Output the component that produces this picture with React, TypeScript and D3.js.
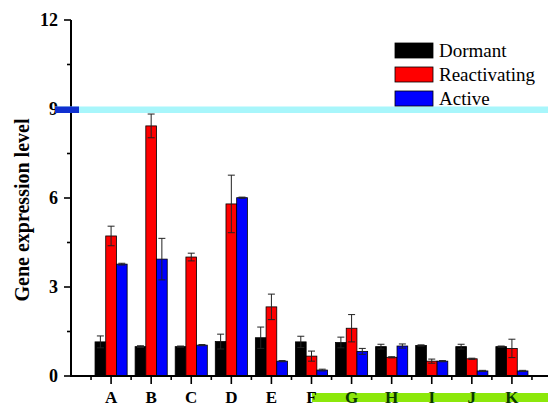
import React from "react";
import * as d3 from "d3";

// categories and series
const categories = ["A", "B", "C", "D", "E", "F", "G", "H", "I", "J", "K"];
const seriesNames = ["Dormant", "Reactivating", "Active"];
const seriesColors = ["#000000", "#ff0000", "#0000ff"];

const dormant = [1.15, 0.99, 0.99, 1.16, 1.29, 1.15, 1.13, 0.99, 1.03, 0.99, 0.99];
const reactivating = [4.72, 8.43, 4.01, 5.8, 2.33, 0.67, 1.61, 0.63, 0.5, 0.58, 0.93];
const active = [3.77, 3.94, 1.04, 6.01, 0.5, 0.2, 0.83, 1.01, 0.5, 0.17, 0.17];

const dormantErr = [0.2, 0.03, 0.02, 0.25, 0.36, 0.19, 0.18, 0.08, 0.02, 0.08, 0.02];
const reactivatingErr = [0.33, 0.4, 0.13, 0.97, 0.43, 0.17, 0.46, 0.02, 0.07, 0.02, 0.31];
const activeErr = [0.03, 0.7, 0.02, 0.02, 0.02, 0.03, 0.1, 0.07, 0.02, 0.02, 0.02];

const yTicks = [0, 3, 6, 9, 12];
const yMinorTicks = [1.5, 4.5, 7.5, 10.5];

const values = [dormant, reactivating, active];
const errors = [dormantErr, reactivatingErr, activeErr];

const font = "Liberation Serif";

const App = () => {
  const width = 548;
  const height = 406;

  const xScale = d3.scaleLinear().domain([0, 12]).range([71, 552]);
  const yScale = d3.scaleLinear().domain([0, 12]).range([376, 20]);
  const barW = 10.7;
  const x0 = xScale(0);

  const minorX = d3.range(0, 12).map((d) => d + 0.5);

  return (
    <svg
      width={width}
      height={height}
      style={{ position: "absolute", left: 0, top: 0, background: "#fff", fontFamily: font }}
    >
      {/* bars */}
      {values.map((series, s) =>
        series.map((v, i) => {
          const cx = xScale(i + 1) + (s - 1) * barW;
          return (
            <rect
              key={`b${s}-${i}`}
              x={cx - barW / 2}
              y={yScale(v)}
              width={barW}
              height={yScale(0) - yScale(v)}
              fill={seriesColors[s]}
              stroke="#000"
              strokeWidth={0.8}
            />
          );
        })
      )}

      {/* error bars */}
      {errors.map((series, s) =>
        series.map((e, i) => {
          const cx = xScale(i + 1) + (s - 1) * barW;
          const v = values[s][i];
          const top = yScale(v + e);
          const bot = yScale(Math.max(0, v - e));
          return (
            <g key={`e${s}-${i}`} stroke="#222" strokeWidth={1}>
              <line x1={cx} x2={cx} y1={top} y2={bot} />
              <line x1={cx - 3.5} x2={cx + 3.5} y1={top} y2={top} />
              <line x1={cx - 3.5} x2={cx + 3.5} y1={bot} y2={bot} />
            </g>
          );
        })
      )}

      {/* y axis */}
      <line x1={x0} x2={x0} y1={yScale(12)} y2={yScale(0)} stroke="#000" strokeWidth={2} />
      {yTicks.map((t) => (
        <g key={`yt${t}`}>
          <line x1={x0 - 7} x2={x0} y1={yScale(t)} y2={yScale(t)} stroke="#000" strokeWidth={1.6} />
          <text
            x={x0 - 13}
            y={yScale(t)}
            dy="0.35em"
            textAnchor="end"
            style={{ fontFamily: font }}
            fontWeight="bold"
            fontSize={18}
          >
            {t}
          </text>
        </g>
      ))}
      {yMinorTicks.map((t) => (
        <line
          key={`ym${t}`}
          x1={x0 - 4}
          x2={x0}
          y1={yScale(t)}
          y2={yScale(t)}
          stroke="#000"
          strokeWidth={1.6}
        />
      ))}

      {/* x axis */}
      <line x1={x0 - 1} x2={width} y1={yScale(0)} y2={yScale(0)} stroke="#000" strokeWidth={2} />
      {minorX.map((t) => (
        <line
          key={`xm${t}`}
          x1={xScale(t)}
          x2={xScale(t)}
          y1={yScale(0)}
          y2={yScale(0) + 4}
          stroke="#000"
          strokeWidth={1.6}
        />
      ))}
      {categories.map((c, i) => (
        <line
          key={`xt${c}`}
          x1={xScale(i + 1)}
          x2={xScale(i + 1)}
          y1={yScale(0)}
          y2={yScale(0) + 8}
          stroke="#000"
          strokeWidth={1.6}
        />
      ))}

      {/* overlay marks seen in the picture */}
      <rect x={55} y={106.5} width={width - 55} height={6.5} fill="#a8f6fb" />
      <rect x={55} y={106.5} width={24} height={6.5} fill="#1030d0" />
      <rect x={312} y={393} width={width - 312} height={9} fill="#8ce80a" />

      {categories.map((c, i) => (
        <text
          key={`xl${c}`}
          x={xScale(i + 1)}
          y={403}
          textAnchor="middle"
          style={{ fontFamily: font }}
          fontWeight="bold"
          fontSize={17}
          fill={i >= 6 ? "#0a3a00" : "#000"}
        >
          {c}
        </text>
      ))}

      {/* y label */}
      <text
        transform={`translate(29,210) rotate(-90)`}
        textAnchor="middle"
        style={{ fontFamily: font }}
        fontWeight="bold"
        fontSize={20}
      >
        Gene expression level
      </text>

      {/* legend */}
      {seriesNames.map((n, i) => (
        <g key={n} transform={`translate(395,${43 + i * 24})`}>
          <rect width={38} height={15} fill={seriesColors[i]} stroke="#000" strokeWidth={0.8} />
          <text x={44} y={13.5} style={{ fontFamily: font }} fontSize={19}>
            {n}
          </text>
        </g>
      ))}
    </svg>
  );
};

export default App;
